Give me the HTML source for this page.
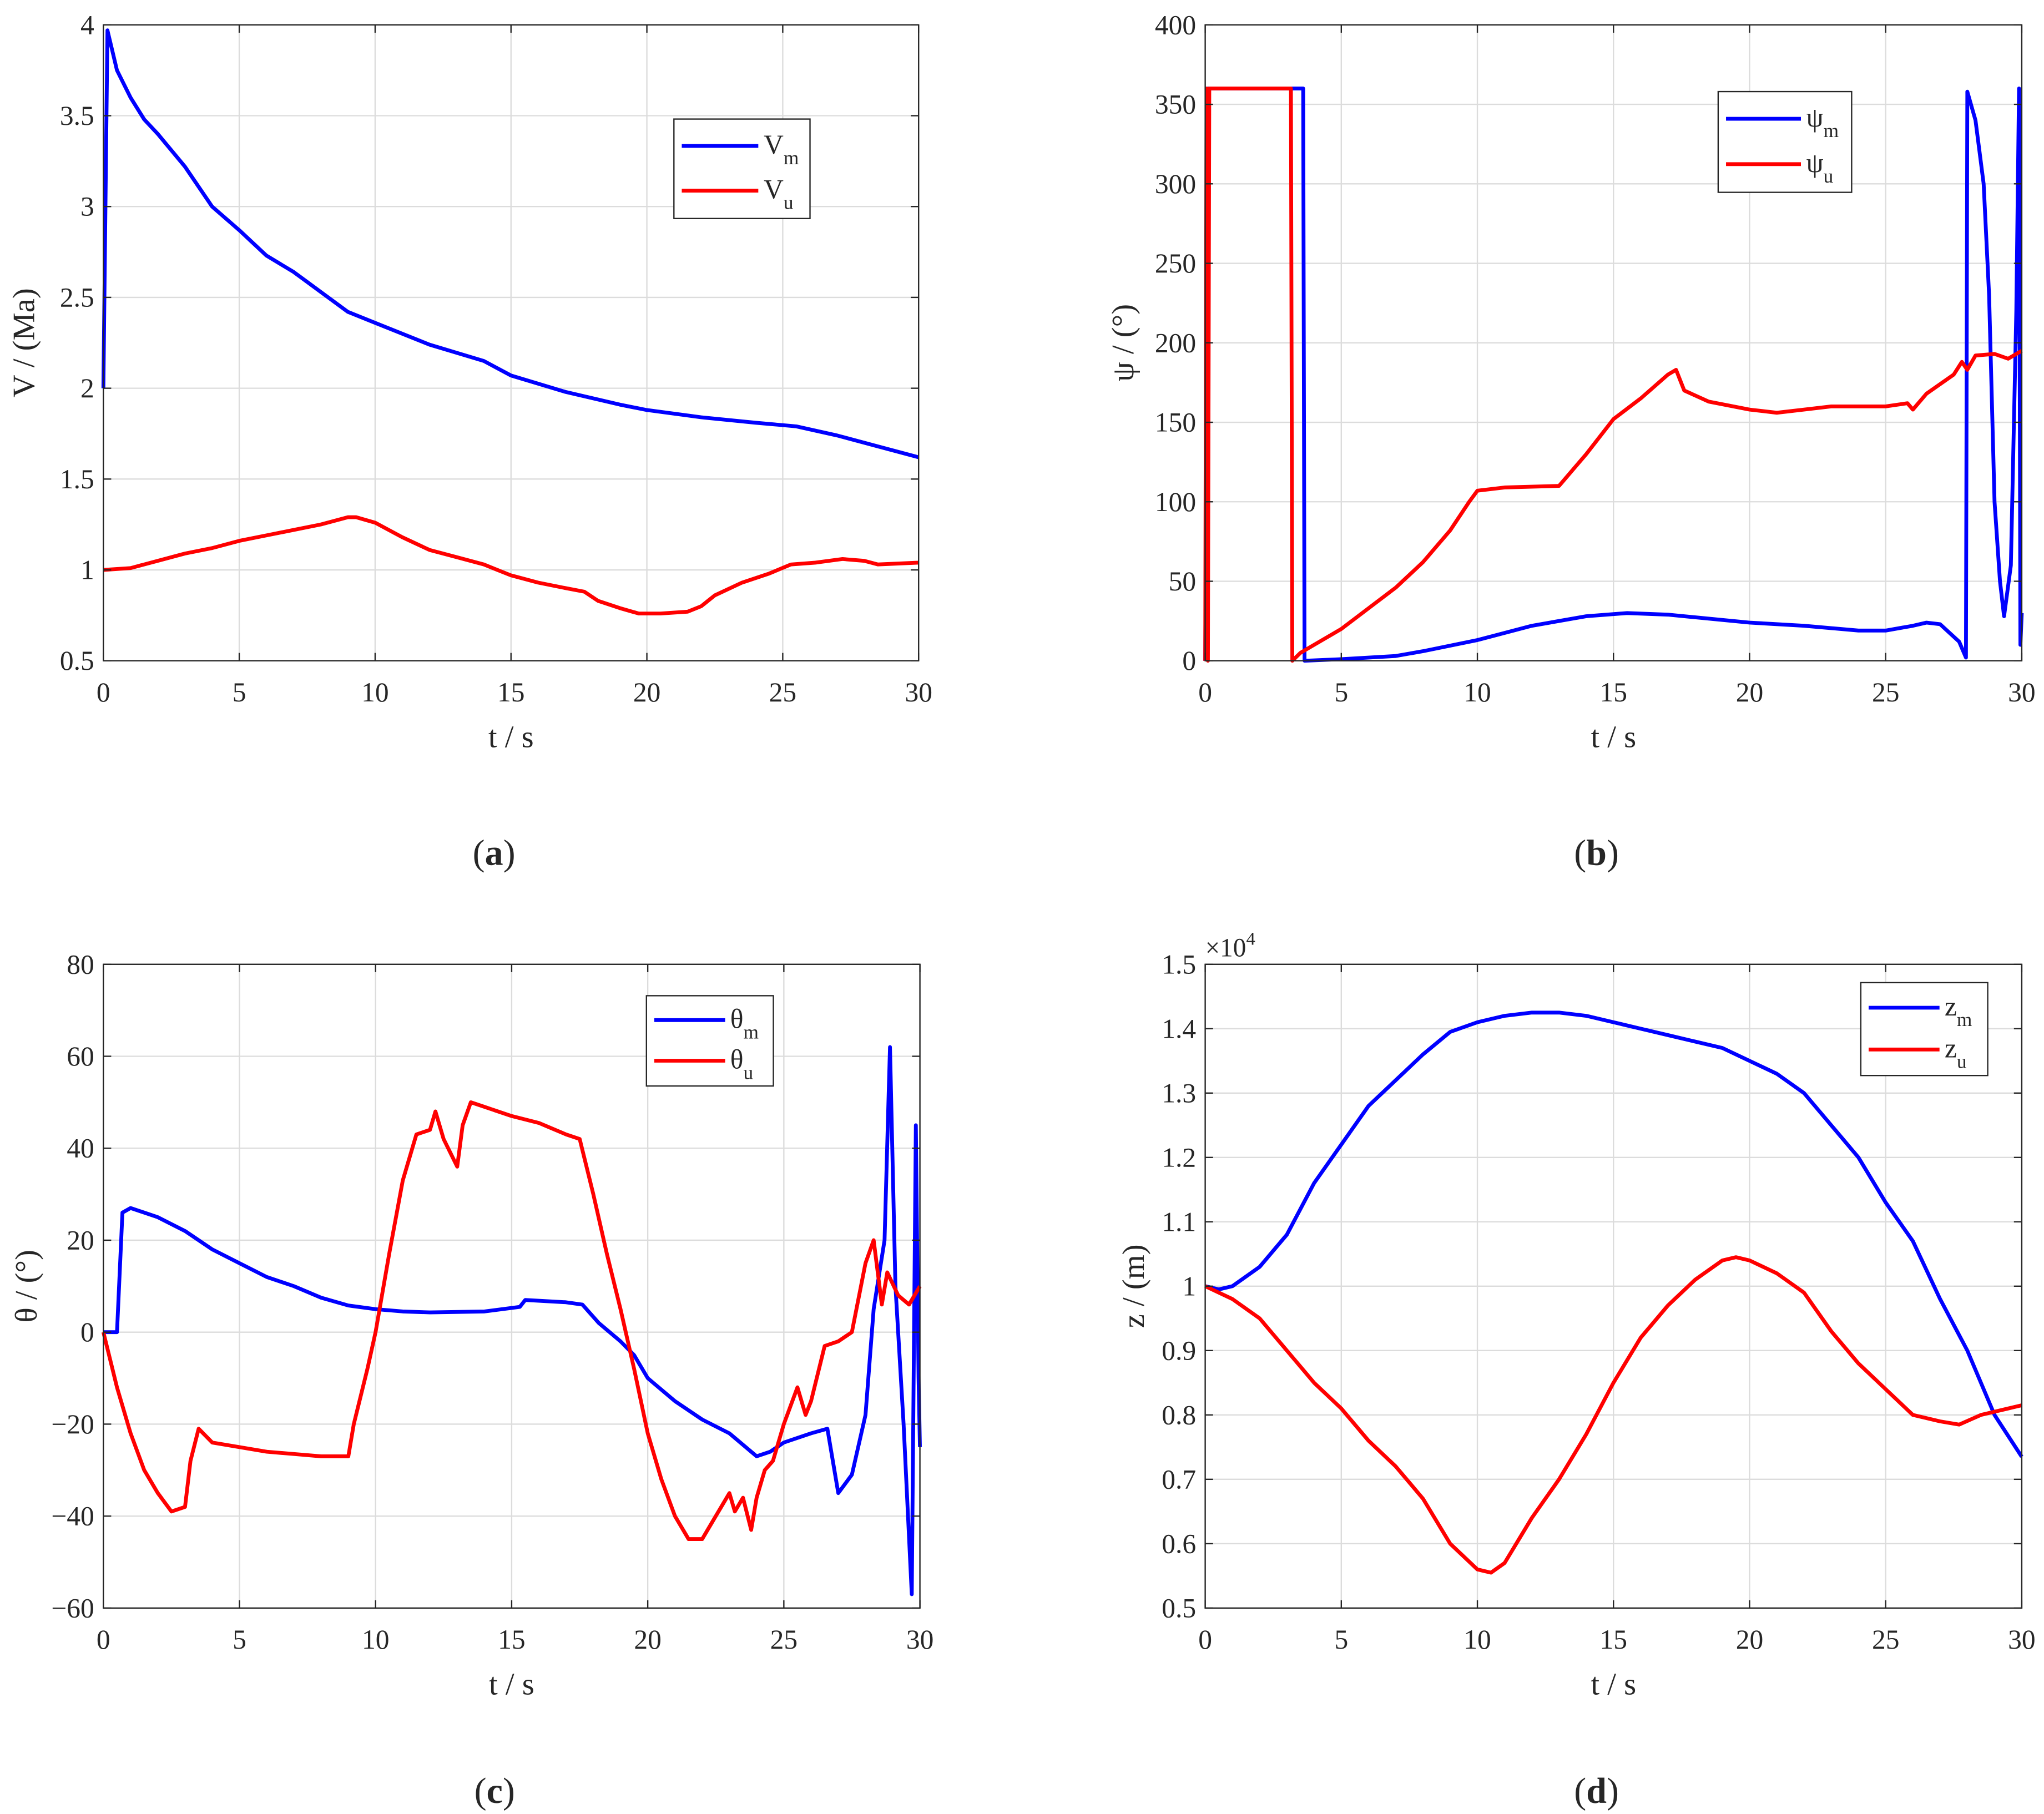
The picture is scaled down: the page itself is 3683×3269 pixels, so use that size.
<!DOCTYPE html>
<html><head><meta charset="utf-8"><style>
html,body{margin:0;padding:0;background:#fff}
svg{display:block}
svg text{font-family:"Liberation Serif","Times New Roman",serif;fill:#262626}
</style></head><body>
<svg id="fig" width="3683" height="3269" viewBox="0 0 1562 1386.4" preserveAspectRatio="none" xmlns="http://www.w3.org/2000/svg" font-family="Liberation Serif, Times New Roman, serif"></svg>
<script>
// ---- data ----
const vmT=[0,0.15,0.5,1,1.5,2,3,4,5,6,7,8,9,10,12,14,15,17,19,20,22,24,25.5,27,28.5,30];
const vmV=[2,3.97,3.75,3.6,3.48,3.4,3.22,3.0,2.87,2.73,2.64,2.53,2.42,2.36,2.24,2.15,2.07,1.98,1.91,1.88,1.84,1.81,1.79,1.74,1.68,1.62];
const vuT=[0,1,2,3,4,5,6,7,8,9,9.3,10,11,12,13,14,15,16,17,17.7,18.2,19,19.7,20.5,21.5,22,22.5,23.5,24.5,25.3,26.2,27.2,28,28.5,30];
const vuV=[1,1.01,1.05,1.09,1.12,1.16,1.19,1.22,1.25,1.29,1.29,1.26,1.18,1.11,1.07,1.03,0.97,0.93,0.9,0.88,0.83,0.79,0.76,0.76,0.77,0.8,0.86,0.93,0.98,1.03,1.04,1.06,1.05,1.03,1.04];
const pmT=[0,0.1,3.6,3.65,5,7,8,10,12,14,15.5,17,20,22,24,25,26,26.5,27,27.7,27.95,28,28.3,28.6,28.8,29,29.2,29.35,29.6,29.8,29.9,29.95,30];
const pmV=[0,360,360,0,1,3,6,13,22,28,30,29,24,22,19,19,22,24,23,12,2,358,340,300,230,100,50,28,60,220,360,10,30];
const puT=[0,0.05,0.1,0.15,0.2,3.15,3.2,3.5,4,5,6,7,8,9,9.7,10,11,13,13.5,14,15,16,17,17.3,17.6,18.5,20,21,22,23,25,25.8,26,26.5,27.5,27.8,28,28.3,29,29.5,30];
const puV=[0,360,0,360,360,360,0,5,10,20,33,46,62,82,100,107,109,110,120,130,152,165,180,183,170,163,158,156,158,160,160,162,158,168,180,188,183,192,193,190,195];
const tmT=[0,0.5,0.7,1,2,3,4,5,6,7,8,9,10,11,12,14,15.3,15.5,17,17.6,18.2,19,19.5,20,21,22,23,24,24.5,25,26,26.6,27,27.5,28,28.3,28.7,28.9,29.1,29.4,29.7,29.85,29.95,30];
const tmV=[0,0,26,27,25,22,18,15,12,10,7.5,5.8,5,4.5,4.3,4.5,5.5,7,6.5,6,2,-2,-5,-10,-15,-19,-22,-27,-26,-24,-22,-21,-35,-31,-18,5,20,62,10,-20,-57,45,-10,-25];
const tuT=[0,0.5,1,1.5,2,2.5,3,3.2,3.5,4,5,6,7,8,9,9.2,9.7,10,10.5,11,11.5,12,12.2,12.5,13,13.2,13.5,14,15,16,17,17.5,18,18.5,19,19.5,20,20.5,21,21.5,22,22.5,23,23.2,23.5,23.8,24,24.3,24.6,25,25.5,25.8,26,26.5,27,27.5,28,28.3,28.6,28.8,29.2,29.6,30];
const tuV=[0,-12,-22,-30,-35,-39,-38,-28,-21,-24,-25,-26,-26.5,-27,-27,-20,-8,0,17,33,43,44,48,42,36,45,50,49,47,45.5,43,42,30,17,5,-8,-22,-32,-40,-45,-45,-40,-35,-39,-36,-43,-36,-30,-28,-20,-12,-18,-15,-3,-2,0,15,20,6,13,8,6,10];
const zmT=[0,0.5,1,2,3,4,5,6,7,8,9,10,11,12,13,14,15,16,17,18,19,20,21,22,23,24,25,26,27,28,29,30];
const zmV=[1.0,0.995,1.0,1.03,1.08,1.16,1.22,1.28,1.32,1.36,1.395,1.41,1.42,1.425,1.425,1.42,1.41,1.40,1.39,1.38,1.37,1.35,1.33,1.30,1.25,1.20,1.13,1.07,0.98,0.90,0.80,0.735];
const zuT=[0,1,2,3,4,5,6,7,8,9,10,10.5,11,12,13,14,15,16,17,18,19,19.5,20,21,22,23,24,25,26,27,27.7,28.5,29.5,30];
const zuV=[1.0,0.98,0.95,0.90,0.85,0.81,0.76,0.72,0.67,0.60,0.56,0.555,0.57,0.64,0.70,0.77,0.85,0.92,0.97,1.01,1.04,1.045,1.04,1.02,0.99,0.93,0.88,0.84,0.80,0.79,0.785,0.80,0.81,0.815];
const xTicks=[0,5,10,15,20,25,30];
const vTicks=[0.5,1,1.5,2,2.5,3,3.5,4];
const pTicks=[0,50,100,150,200,250,300,350,400];
const thTicks=[-60,-40,-20,0,20,40,60,80];
const zTicks=[0.5,0.6,0.7,0.8,0.9,1,1.1,1.2,1.3,1.4,1.5];

const NS="http://www.w3.org/2000/svg";
const svg=document.getElementById('fig');
function mk(tag,attrs,parent){const e=document.createElementNS(NS,tag);for(const k in attrs)e.setAttribute(k,attrs[k]);(parent||svg).appendChild(e);return e;}

function panel(o){
  const g=mk('g',{});
  
  
  const X=t=>o.x0+(t-0)/30*(o.x1-o.x0);
  const Y=v=>o.y1-(v-o.ymin)/(o.ymax-o.ymin)*(o.y1-o.y0);
  xTicks.forEach(t=>{const l=mk('line',{x1:X(t),x2:X(t),y1:o.y0,y2:o.y1,stroke:'#dcdcdc','stroke-width':1},g);
    });
  o.yt.forEach(v=>{const l=mk('line',{x1:o.x0,x2:o.x1,y1:Y(v),y2:Y(v),stroke:'#dcdcdc','stroke-width':1},g);
    });
  o.series.forEach(s=>{
    const d=s.t.map((t,i)=>(i?'L':'M')+X(t).toFixed(2)+' '+Y(s.v[i]).toFixed(2)).join(' ');
    const p=mk('path',{d:d,fill:'none',stroke:s.c,'stroke-width':2.9,'stroke-linejoin':'round'},g);
    
  });
  const r=mk('rect',{x:o.x0,y:o.y0,width:o.x1-o.x0,height:o.y1-o.y0,fill:'none',stroke:'#262626','stroke-width':1},g);
  
  xTicks.forEach(t=>{
    mk('line',{x1:X(t),x2:X(t),y1:o.y1,y2:o.y1-6,stroke:'#262626'},g);
    mk('line',{x1:X(t),x2:X(t),y1:o.y0,y2:o.y0+6,stroke:'#262626'},g);
    const tx=mk('text',{x:X(t),y:o.y1+31,'text-anchor':'middle','font-size':21},g);tx.textContent=t;
    
  });
  o.yt.forEach(v=>{
    mk('line',{x1:o.x0,x2:o.x0+6,y1:Y(v),y2:Y(v),stroke:'#262626'},g);
    mk('line',{x1:o.x1,x2:o.x1-6,y1:Y(v),y2:Y(v),stroke:'#262626'},g);
    const tx=mk('text',{x:o.x0-7,y:Y(v)+7,'text-anchor':'end','font-size':21},g);tx.textContent=(v<0?'\u2212'+(-v):v);
    
  });
  const xl=mk('text',{x:(o.x0+o.x1)/2,y:o.y1+66,'text-anchor':'middle','font-size':24},g);xl.textContent='t / s';
  
  const cy=(o.y0+o.y1)/2;
  const yl=mk('text',{x:o.ylx,y:cy,'text-anchor':'middle','font-size':24,transform:`rotate(-90 ${o.ylx} ${cy})`},g);yl.textContent=o.ylabel;
  
  const L=o.leg;
  const lg=mk('g',{},g);
  mk('rect',{x:L.x,y:L.y,width:L.w,height:L.h,fill:'#fff',stroke:'#262626','stroke-width':1},lg);
  o.series.forEach((s,i)=>{
    const yy=L.y+L.h*(i?0.72:0.27);
    const e=mk('g',{},lg);
    mk('line',{x1:L.x+6,x2:L.x+L.w*0.62,y1:yy,y2:yy,stroke:s.c,'stroke-width':2.9},e);
    const t=mk('text',{x:L.x+L.w*0.66,y:yy+6,'font-size':21},e);
    t.textContent=s.sym;
    const sub=mk('tspan',{'font-size':15,dy:8},t);sub.textContent=s.sub;
  });
  const cap=mk('text',{x:(o.x0+o.x1)/2-13,y:o.capy,'text-anchor':'middle','font-size':28},g);
  
  cap.appendChild(document.createTextNode('('));
  const b=mk('tspan',{'font-weight':'bold'},cap);b.textContent=o.cap;
  cap.appendChild(document.createTextNode(')'));
  return {g,X,Y};
}

panel({name:'panel-a-velocity',x0:79,x1:702,y0:19,y1:505,ymin:0.5,ymax:4,yt:vTicks,ylabel:'V / (Ma)',ylx:26,capy:661,cap:'a',
  leg:{x:515,y:91,w:104,h:76},
  series:[{t:vmT,v:vmV,c:'#0000ff',n:'vm-line',sym:'V',sub:'m'},{t:vuT,v:vuV,c:'#ff0000',n:'vu-line',sym:'V',sub:'u'}]});
panel({name:'panel-b-heading',x0:921,x1:1545,y0:19,y1:505,ymin:0,ymax:400,yt:pTicks,ylabel:'\u03c8 / (\u00b0)',ylx:866,capy:661,cap:'b',
  leg:{x:1313,y:70,w:102,h:77},
  series:[{t:pmT,v:pmV,c:'#0000ff',n:'psi-m-line',sym:'\u03c8',sub:'m'},{t:puT,v:puV,c:'#ff0000',n:'psi-u-line',sym:'\u03c8',sub:'u'}]});
panel({name:'panel-c-pitch',x0:79,x1:703,y0:737,y1:1229,ymin:-60,ymax:80,yt:thTicks,ylabel:'\u03b8 / (\u00b0)',ylx:28,capy:1378,cap:'c',
  leg:{x:494,y:761,w:97,h:69},
  series:[{t:tmT,v:tmV,c:'#0000ff',n:'theta-m-line',sym:'\u03b8',sub:'m'},{t:tuT,v:tuV,c:'#ff0000',n:'theta-u-line',sym:'\u03b8',sub:'u'}]});
panel({name:'panel-d-altitude',x0:921,x1:1545,y0:737,y1:1229,ymin:0.5,ymax:1.5,yt:zTicks,ylabel:'z / (m)',ylx:874,capy:1378,cap:'d',
  leg:{x:1422,y:751,w:97,h:71},
  series:[{t:zmT,v:zmV,c:'#0000ff',n:'zm-line',sym:'z',sub:'m'},{t:zuT,v:zuV,c:'#ff0000',n:'zu-line',sym:'z',sub:'u'}]});
const ex=mk('text',{x:921,y:731,'font-size':20});


ex.textContent='\u00d710';
const sp=mk('tspan',{'font-size':14,dy:-9},ex);sp.textContent='4';
</script>
</body></html>
